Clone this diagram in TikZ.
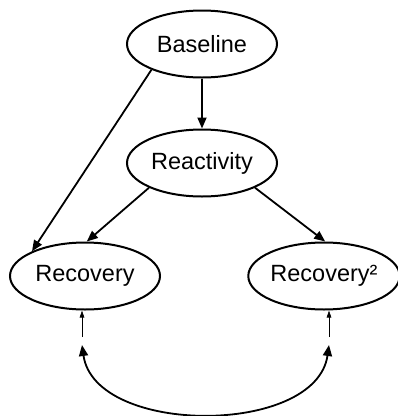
\documentclass[tikz,border=0pt]{standalone}
\usepackage{fontspec}
\setmainfont{Liberation Sans}
\usetikzlibrary{shapes.geometric, arrows.meta}

\begin{document}
\begin{tikzpicture}[x=1pt, y=-1pt,
    var/.style={draw, ellipse, line width=2pt, inner sep=0pt, minimum width=150pt, minimum height=67pt, font=\fontsize{23.5}{28}\selectfont},
    path/.style={line width=1.8pt, -{Triangle[length=11pt, width=9pt]}},
    resid/.style={line width=0.7pt, -{Triangle[length=7pt, width=4.5pt]}}]
\useasboundingbox (0,0) rectangle (398,416);

\node[var] (baseline) at (202,44) {Baseline};
\node[var] (reactivity) at (202,163) {Reactivity};
\node[var] (recovery) at (85,276) {Recovery};
\node[var] (recoverysq) at (324,276) {Recovery²};

\draw[path] (baseline.south) -- (reactivity.north);
\draw[path] (baseline.207) -- (recovery.155);
\draw[path] (reactivity.205) -- (recovery.87);
\draw[path] (reactivity.335) -- (recoverysq.88);

% residual covariance
\coordinate (e1) at (82,337);
\coordinate (e2) at (329,337);
\draw[resid] (e1) -- (e1 |- recovery.south);
\draw[resid] (e2) -- (e2 |- recoverysq.south);
\coordinate (c1) at (82,345);
\coordinate (c2) at (329,345);
\draw[line width=1.8pt, {Triangle[length=11pt, width=9pt]}-{Triangle[length=11pt, width=9pt]}] (c1) .. controls (95,436) and (316,436) .. (c2);

\end{tikzpicture}
\end{document}
